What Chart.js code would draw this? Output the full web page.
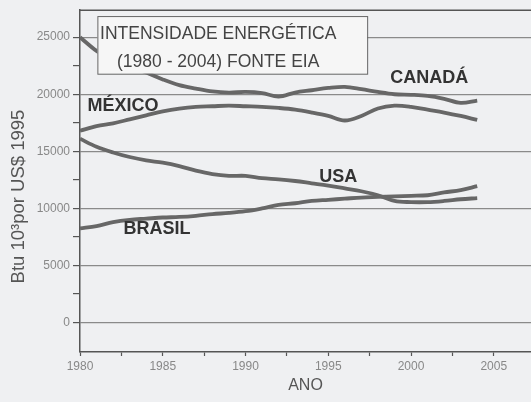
<!DOCTYPE html>
<html>
<head>
<meta charset="utf-8">
<script src="https://cdn.jsdelivr.net/npm/chart.js@4.4.1/dist/chart.umd.min.js"></script>
<style>
  html, body { margin: 0; padding: 0; background: #eff0f2; }
  #wrap { width: 531px; height: 402px; }
</style>
</head>
<body>
<div id="wrap"><canvas id="chart"></canvas></div>
<script>
// years 1980..2004
const years = [1980, 1981, 1982, 1983, 1984, 1985, 1986, 1987, 1988, 1989, 1990, 1991, 1992,
               1993, 1994, 1995, 1996, 1997, 1998, 1999, 2000, 2001, 2002, 2003, 2004];

const canada = [25000, 23800, 23000, 22400, 21900, 21300, 20800, 20500, 20250, 20150, 20200, 20100, 19800,
                20150, 20350, 20550, 20650, 20450, 20200, 20000, 19950, 19850, 19600, 19250, 19450];
const mexico = [16800, 17200, 17450, 17800, 18150, 18500, 18750, 18900, 18950, 19000, 18950, 18900, 18800,
                18650, 18400, 18100, 17700, 18100, 18750, 19000, 18900, 18650, 18400, 18100, 17750];
const usa    = [16100, 15400, 14900, 14500, 14200, 14000, 13700, 13300, 13000, 12850, 12850, 12650, 12550,
                12400, 12200, 12000, 11750, 11500, 11150, 10650, 10550, 10550, 10650, 10800, 10900];
const brasil = [8250, 8450, 8800, 9000, 9100, 9200, 9250, 9350, 9500, 9600, 9750, 10000, 10300,
                10450, 10650, 10750, 10850, 10950, 11000, 11050, 11100, 11150, 11400, 11600, 11950];

const xTicks = [1980, 1982.5, 1985, 1987.5, 1990, 1992.5, 1995, 1997.5, 2000, 2002.5, 2005];
const yTicks = [0, 2500, 5000, 7500, 10000, 12500, 15000, 17500, 20000, 22500, 25000];

// series labels, anchored in data units [year, value]
const seriesLabels = [
    { text: 'CANADÁ', at: [2001.1, 21400] },
    { text: 'MÉXICO', at: [1982.6, 18950] },
    { text: 'USA',    at: [1995.6, 12750] },
    { text: 'BRASIL', at: [1984.65, 8200] }
];
const titleLines = ['INTENSIDADE ENERGÉTICA', '(1980 - 2004) FONTE EIA'];

const toPoints = arr => arr.map((v, i) => ({ x: years[i], y: v }));

const lineStyle = {
    borderColor: '#676767',
    borderWidth: 3.8,
    pointRadius: 0,
    tension: 0.35,
    fill: false
};

const decorPlugin = {
    id: 'decor',
    beforeDraw(chart) {
        const c = chart.ctx;
        c.save();
        c.fillStyle = '#eff0f2';
        c.fillRect(0, 0, chart.width, chart.height);
        c.restore();
    },
    afterDatasetsDraw(chart) {
        const c = chart.ctx;
        const xs = chart.scales.x, ys = chart.scales.y;
        const area = chart.chartArea;
        c.save();

        // top frame line
        c.strokeStyle = '#555';
        c.lineWidth = 1.5;
        c.beginPath();
        c.moveTo(area.left, area.top);
        c.lineTo(area.right, area.top);
        c.stroke();

        // title box
        const bx = xs.getPixelForValue(1981.05), bx2 = xs.getPixelForValue(1997.35);
        const by = ys.getPixelForValue(26850), by2 = ys.getPixelForValue(21800);
        c.fillStyle = '#f6f6f6';
        c.fillRect(bx, by, bx2 - bx, by2 - by);
        c.strokeStyle = '#666';
        c.lineWidth = 1;
        c.strokeRect(bx + 0.5, by + 0.5, bx2 - bx, by2 - by);

        c.fillStyle = '#444';
        c.font = '17.5px "Liberation Sans", Arial, sans-serif';
        c.textAlign = 'center';
        c.textBaseline = 'middle';
        const cx = xs.getPixelForValue(1988.35);
        c.fillText(titleLines[0], cx, by + 18);
        c.fillText(titleLines[1], cx, by + 46);

        // series labels
        c.fillStyle = '#333';
        c.font = 'bold 18px "Liberation Sans", Arial, sans-serif';
        seriesLabels.forEach(l => {
            c.fillText(l.text, xs.getPixelForValue(l.at[0]), ys.getPixelForValue(l.at[1]));
        });
        c.restore();
    }
};

new Chart(document.getElementById('chart'), {
    type: 'line',
    data: {
        datasets: [
            { label: 'CANADÁ', data: toPoints(canada), ...lineStyle },
            { label: 'MÉXICO', data: toPoints(mexico), ...lineStyle },
            { label: 'USA', data: toPoints(usa), ...lineStyle },
            { label: 'BRASIL', data: toPoints(brasil), ...lineStyle }
        ]
    },
    options: {
        responsive: true,
        maintainAspectRatio: false,
        animation: false,
        layout: { padding: { top: 9, right: 0, left: 0, bottom: 0 } },
        plugins: {
            legend: { display: false },
            tooltip: { enabled: false }
        },
        scales: {
            x: {
                type: 'linear',
                min: 1980,
                max: 2007.25,
                afterBuildTicks: s => { s.ticks = xTicks.map(v => ({ value: v })); },
                afterFit: s => { s.height = 50; },
                ticks: {
                    autoSkip: false,
                    maxRotation: 0,
                    padding: 3,
                    color: '#888',
                    font: { family: '"Liberation Sans", Arial, sans-serif', size: 12 },
                    callback: v => (v % 5 === 0 ? String(v) : '')
                },
                grid: { drawOnChartArea: false, tickLength: 4, tickColor: '#555', tickWidth: 1.2 },
                border: { color: '#555', width: 1.5 },
                title: {
                    display: true,
                    text: 'ANO',
                    color: '#555',
                    font: { family: '"Liberation Sans", Arial, sans-serif', size: 16 },
                    padding: { top: 0, bottom: 7 }
                }
            },
            y: {
                min: -2583,
                max: 27364,
                afterBuildTicks: s => { s.ticks = yTicks.map(v => ({ value: v })); },
                afterFit: s => { s.width = 80; },
                ticks: {
                    autoSkip: false,
                    padding: 3,
                    color: '#888',
                    font: { family: '"Liberation Sans", Arial, sans-serif', size: 12 },
                    callback: v => (v % 5000 === 0 ? String(v) : '')
                },
                grid: {
                    color: ctx => (ctx.tick && ctx.tick.value % 5000 === 0 ? '#8a8a8a' : 'rgba(0,0,0,0)'),
                    tickColor: '#555',
                    tickLength: 7,
                    lineWidth: 1.2
                },
                border: { color: '#555', width: 1.5 },
                title: {
                    display: true,
                    // trailing spaces nudge the centred title down a bit
                    text: 'Btu 10³por US$ 1995      ',
                    color: '#555',
                    font: { family: '"Liberation Sans", Arial, sans-serif', size: 18.5 },
                    padding: { top: 8, bottom: 8 }
                }
            }
        }
    },
    plugins: [decorPlugin]
});
</script>
</body>
</html>
